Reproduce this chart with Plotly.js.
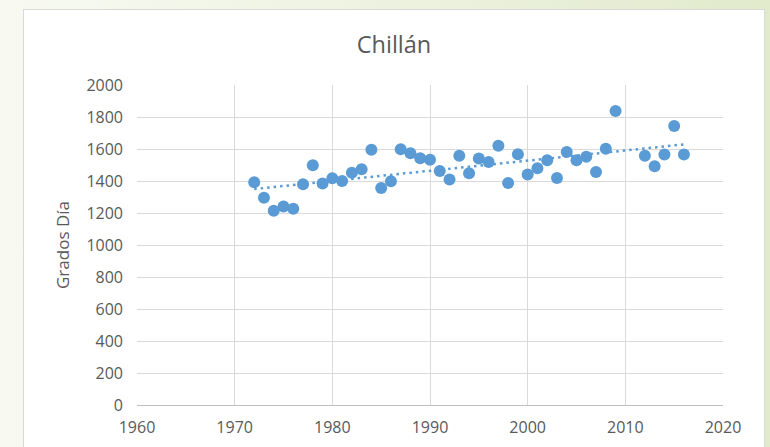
<!DOCTYPE html>
<html>
<head>
<meta charset="utf-8">
<script src="https://cdn.plot.ly/plotly-3.0.1.min.js"></script>
<style>
  html, body { margin: 0; padding: 0; width: 770px; height: 447px; overflow: hidden;
    background: linear-gradient(to right, #f8faf2 0%, #eef3e2 45%, #e2eacc 100%); }
  #chart { position: absolute; left: 24px; top: 10px; width: 740px; height: 437px;
    background: #ffffff; outline: 1px solid #d9d9d9; }
</style>
</head>
<body>
<div id="chart"></div>
<script>
const chartTitle = "Chillán";
const yTitle = "Grados Día";
const years = [1972, 1973, 1974, 1975, 1976, 1977, 1978, 1979, 1980, 1981, 1982, 1983, 1984, 1985, 1986, 1987, 1988, 1989, 1990, 1991, 1992, 1993, 1994, 1995, 1996, 1997, 1998, 1999, 2000, 2001, 2002, 2003, 2004, 2005, 2006, 2007, 2008, 2009, 2012, 2013, 2014, 2015, 2016];
const gradosDia = [1392, 1296, 1214, 1240, 1227, 1379, 1498, 1385, 1417, 1400, 1452, 1473, 1596, 1356, 1398, 1598, 1573, 1542, 1533, 1462, 1410, 1558, 1448, 1540, 1519, 1621, 1387, 1567, 1440, 1479, 1529, 1419, 1581, 1529, 1552, 1456, 1602, 1838, 1558, 1492, 1565, 1744, 1565];
const xTicks = [1960, 1970, 1980, 1990, 2000, 2010, 2020];
const yTicks = [0, 200, 400, 600, 800, 1000, 1200, 1400, 1600, 1800, 2000];

// linear trendline (least squares) from the data
const n = years.length;
const mx = years.reduce((a, b) => a + b, 0) / n;
const my = gradosDia.reduce((a, b) => a + b, 0) / n;
let sxy = 0, sxx = 0;
for (let i = 0; i < n; i++) { sxy += (years[i] - mx) * (gradosDia[i] - my); sxx += (years[i] - mx) ** 2; }
const slope = sxy / sxx;
const icpt = my - slope * mx;
const trendX = [years[0], years[n - 1]];
const trendY = trendX.map(x => icpt + slope * x);

const blue = '#5b9bd5';
const font = "'Open Sans', 'Noto Sans', sans-serif";

const data = [
  { x: trendX, y: trendY, type: 'scatter', mode: 'lines',
    line: { color: blue, width: 2.5, dash: '2.5px,4px' }, hoverinfo: 'skip', showlegend: false },
  { x: years, y: gradosDia, type: 'scatter', mode: 'markers',
    marker: { color: blue, size: 12 }, showlegend: false }
];

const layout = {
  width: 740, height: 437,
  margin: { l: 112.5, r: 41, t: 75, b: 42 },
  paper_bgcolor: 'rgba(0,0,0,0)', plot_bgcolor: '#ffffff',
  font: { family: font, color: '#595959', size: 16 },
  title: { text: chartTitle, font: { size: 23.5, color: '#595959', family: font },
    xref: 'container', x: 0.5, xanchor: 'center', yref: 'container', y: 1 - 35 / 437, yanchor: 'middle' },
  xaxis: { range: [1960, 2020], tickvals: xTicks, ticktext: xTicks.map(String),
    showgrid: true, gridcolor: '#d9d9d9', gridwidth: 1, zeroline: false,
    showline: true, linecolor: '#bfbfbf', linewidth: 1, ticks: '', ticklabelstandoff: 8,
    tickfont: { size: 16, color: '#595959' }, fixedrange: true },
  yaxis: { range: [0, 2000], tickvals: yTicks, ticktext: yTicks.map(String),
    showgrid: true, gridcolor: '#d9d9d9', gridwidth: 1, zeroline: false,
    showline: false, ticks: '', ticklabelstandoff: 13,
    tickfont: { size: 16, color: '#595959' },
    title: { text: yTitle, font: { size: 17, color: '#595959' }, standoff: 12 }, fixedrange: true },
  showlegend: false
};

Plotly.newPlot('chart', data, layout, { displayModeBar: false, staticPlot: true });
</script>
</body>
</html>
